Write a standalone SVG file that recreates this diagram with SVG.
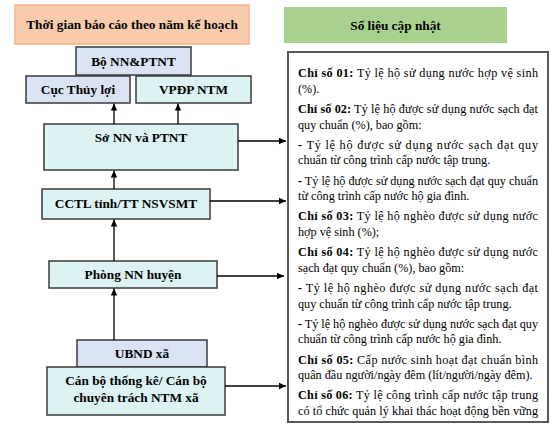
<svg xmlns="http://www.w3.org/2000/svg" width="553" height="424" viewBox="0 0 553 424">
<defs>
<marker id="ah" markerWidth="8" markerHeight="8" refX="7" refY="4" orient="auto" markerUnits="userSpaceOnUse">
<path d="M0,0.8 L7,4 L0,7.2 Z" fill="#000"/>
</marker>
<style>
.box{stroke:#3a3a3a;stroke-width:1.5}
.blue{fill:#dae3f3}
.cyan{fill:#ddf2f2}
.lbl{font-family:"Liberation Serif","Times New Roman",serif;font-weight:bold;font-size:13.3px;fill:#000;text-anchor:middle}
.t{font-family:"Liberation Serif","Times New Roman",serif;font-size:12.2px;fill:#000}
.b{font-weight:bold}
.conn{stroke:#000;stroke-width:1.3;fill:none;marker-end:url(#ah)}
</style>
</defs>
<rect width="553" height="424" fill="#fff"/>

<g id="title-left">
<rect x="15" y="5" width="234" height="39" fill="#f8cbad" stroke="#f4b183" stroke-width="1.5"/>
<text class="lbl" x="132" y="29">Thời gian báo cáo theo năm kế hoạch</text>
</g>
<g id="title-right">
<rect x="284" y="7" width="223" height="36" fill="#a9d18e"/>
<text class="lbl" x="395.5" y="30">Số liệu cập nhật</text>
</g>

<g id="bo-nn-ptnt">
<rect class="box blue" x="76" y="47" width="115" height="28"/>
<text class="lbl" x="133.5" y="66">Bộ NN&amp;PTNT</text>
</g>
<g id="cuc-thuy-loi">
<rect class="box blue" x="26" y="76" width="104" height="27"/>
<text class="lbl" x="78" y="94">Cục Thủy lợi</text>
</g>
<g id="vpdp-ntm">
<rect class="box cyan" x="136" y="76" width="115" height="27"/>
<text class="lbl" x="193.5" y="94">VPĐP NTM</text>
</g>
<g id="so-nn-ptnt">
<rect class="box cyan" x="44" y="124" width="194" height="46"/>
<text class="lbl" x="141" y="142">Sở NN và PTNT</text>
</g>
<g id="cctl">
<rect class="box cyan" x="42" y="189" width="168" height="30"/>
<text class="lbl" x="126" y="208">CCTL tỉnh/TT NSVSMT</text>
</g>
<g id="phong-nn">
<rect class="box cyan" x="49" y="261" width="168" height="27"/>
<text class="lbl" x="133" y="279">Phòng NN huyện</text>
</g>
<g id="ubnd-xa">
<rect class="box blue" x="77" y="340" width="130" height="27"/>
<text class="lbl" x="142" y="358">UBND xã</text>
</g>
<g id="can-bo">
<rect class="box cyan" x="47" y="367" width="178" height="48"/>
<text class="lbl" x="136" y="385">Cán bộ thống kê/ Cán bộ</text>
<text class="lbl" x="136" y="402">chuyên trách NTM xã</text>
</g>

<g id="data-box">
<rect x="288" y="52" width="260" height="370" fill="#fff" stroke="#595959" stroke-width="2"/>
<text class="t" x="298" y="77" textLength="240" lengthAdjust="spacing"><tspan class="b">Chỉ số 01:</tspan> Tỷ lệ hộ sử dụng nước hợp vệ sinh</text>
<text class="t" x="298" y="92.5">(%).</text>
<text class="t" x="298" y="113" textLength="240" lengthAdjust="spacing"><tspan class="b">Chỉ số 02:</tspan> Tỷ lệ hộ được sử dụng nước sạch đạt</text>
<text class="t" x="298" y="128.5">quy chuẩn (%), bao gồm:</text>
<text class="t" x="298" y="148.5" textLength="240" lengthAdjust="spacing"><tspan class="b">-</tspan> Tỷ lệ hộ được sử dụng nước sạch đạt quy</text>
<text class="t" x="298" y="164">chuẩn từ công trình cấp nước tập trung.</text>
<text class="t" x="298" y="184.5" textLength="240" lengthAdjust="spacing"><tspan class="b">-</tspan> Tỷ lệ hộ được sử dụng nước sạch đạt quy chuẩn</text>
<text class="t" x="298" y="200">từ công trình cấp nước hộ gia đình.</text>
<text class="t" x="298" y="220" textLength="240" lengthAdjust="spacing"><tspan class="b">Chỉ số 03:</tspan> Tỷ lệ hộ nghèo được sử dụng nước</text>
<text class="t" x="298" y="235.5">hợp vệ sinh (%);</text>
<text class="t" x="298" y="256" textLength="240" lengthAdjust="spacing"><tspan class="b">Chỉ số 04:</tspan> Tỷ lệ hộ nghèo được sử dụng nước</text>
<text class="t" x="298" y="271.5">sạch đạt quy chuẩn (%), bao gồm:</text>
<text class="t" x="298" y="292" textLength="240" lengthAdjust="spacing"><tspan class="b">-</tspan> Tỷ lệ hộ nghèo được sử dụng nước sạch đạt</text>
<text class="t" x="298" y="307.5">quy chuẩn từ công trình cấp nước tập trung.</text>
<text class="t" x="298" y="327.5" textLength="240" lengthAdjust="spacing"><tspan class="b">-</tspan> Tỷ lệ hộ nghèo được sử dụng nước sạch đạt quy</text>
<text class="t" x="298" y="343">chuẩn từ công trình cấp nước hộ gia đình.</text>
<text class="t" x="298" y="363.5" textLength="240" lengthAdjust="spacing"><tspan class="b">Chỉ số 05:</tspan> Cấp nước sinh hoạt đạt chuẩn bình</text>
<text class="t" x="298" y="379">quân đầu người/ngày đêm (lít/người/ngày đêm).</text>
<text class="t" x="298" y="399" textLength="240" lengthAdjust="spacing"><tspan class="b">Chỉ số 06:</tspan> Tỷ lệ công trình cấp nước tập trung</text>
<text class="t" x="298" y="414.5" textLength="240" lengthAdjust="spacing">có tổ chức quản lý khai thác hoạt động bền vững</text>
</g>

<g id="connectors">
<line class="conn" x1="114" y1="124" x2="114" y2="103.5"/>
<line class="conn" x1="178" y1="124" x2="178" y2="103.5"/>
<line class="conn" x1="114" y1="189" x2="114" y2="170.5"/>
<line class="conn" x1="114" y1="261" x2="114" y2="219.5"/>
<line class="conn" x1="114" y1="340" x2="114" y2="288.5"/>
<line class="conn" x1="238" y1="141" x2="286" y2="141"/>
<line class="conn" x1="210" y1="201" x2="286" y2="201"/>
<line class="conn" x1="217" y1="276" x2="284" y2="276"/>
<line class="conn" x1="225" y1="386" x2="286" y2="386"/>
</g>
</svg>
